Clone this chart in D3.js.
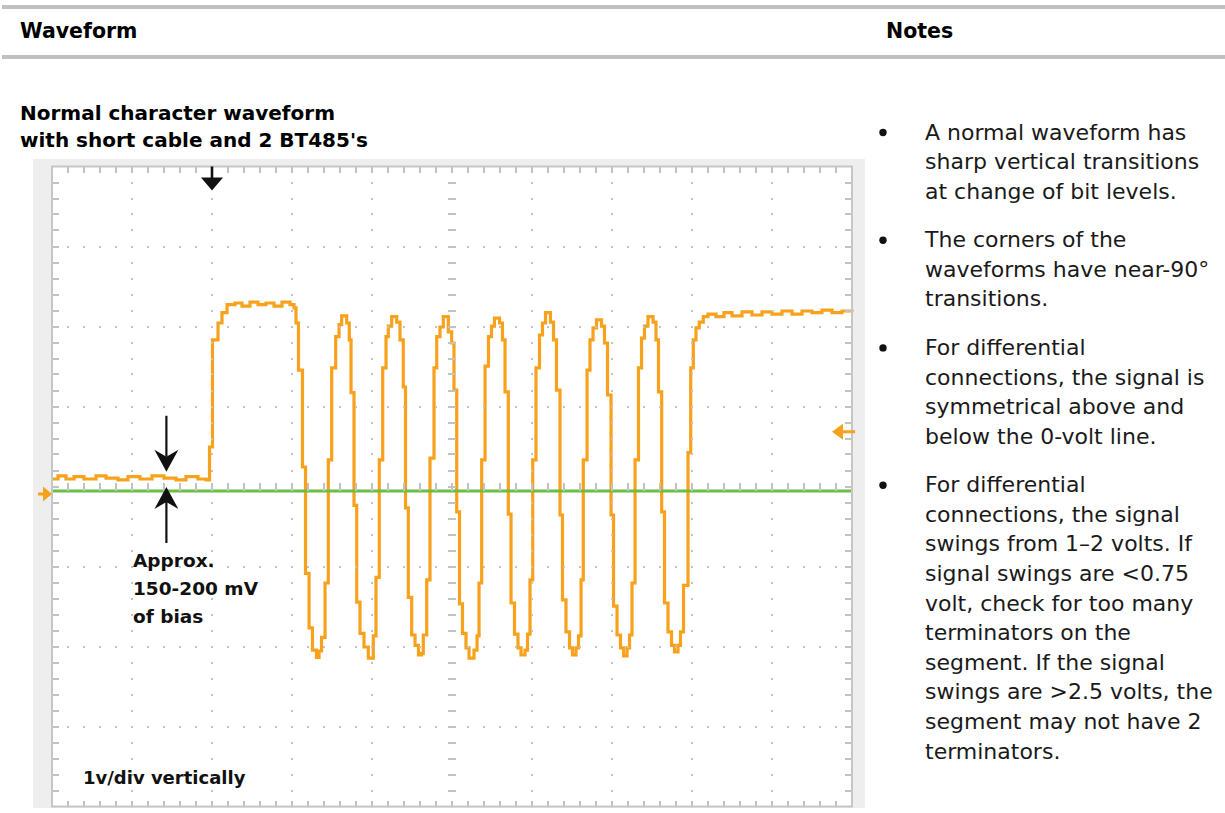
<!DOCTYPE html>
<html><head><meta charset="utf-8">
<script src="https://cdn.jsdelivr.net/npm/d3@7"></script>
<style>body{margin:0;background:#fff}svg{display:block}</style>
</head><body>
<svg id="c" width="1225" height="813"></svg>
<script>
// ---------- DATA ----------
// time in microseconds (assumed 100 us / division), voltage in volts (1 V / division)
const idleLow = [[0,0.15],[7.5,0.19],[17.5,0.15],[27.5,0.18],[40,0.15],[55,0.19],[67.5,0.16],[82.5,0.14],[95,0.18],[110,0.15],[125,0.19],[140,0.16],[155,0.14],[167.5,0.18],[182.5,0.15],[192.5,0.14]];
const firstHigh = [[196.9,0.55],[200.6,1.89],[207.5,2.10],[212.5,2.23],[218.8,2.33],[228.8,2.35],[237.5,2.31],[247.5,2.36],[257.5,2.33],[267.5,2.35],[277.5,2.31],[287.5,2.36],[297.5,2.33],[302.5,2.29]];
const burst = [
 [305,2.10],[308.1,1.51],[313.1,0.30],[316.9,-1.03],[321.3,-1.71],[325.6,-1.99],[330.6,-2.08],[333.8,-2.00],[336.9,-1.83],[341.3,-1.15],[345.4,0.39],[349.6,1.54],[354.6,1.93],[358.8,2.08],[362.1,2.19],[368.4,2.10],[371.6,1.89],[373.8,1.23],
 [377.5,-0.18],[380.9,-1.39],[385,-1.78],[390,-1.95],[395.4,-2.09],[401.6,-1.81],[405,-1.08],[409.1,0.39],[413.4,1.54],[417.5,1.93],[420.4,2.06],[424.6,2.18],[430.9,2.11],[435,1.89],[439.1,1.30],
 [441.9,-0.21],[445.4,-1.33],[449.6,-1.80],[453.8,-1.93],[458.1,-2.05],[462.1,-2.03],[464.1,-1.80],[468.4,-1.11],[472.5,0.41],[477.5,1.54],[480.9,1.93],[485,2.05],[489.1,2.18],[495.4,1.99],[499.6,1.85],[502.5,1.26],
 [505.9,-0.26],[509.4,-1.41],[513.1,-1.78],[517.5,-1.96],[521.3,-2.09],[527.5,-1.99],[531.3,-1.81],[533.8,-1.15],[537.1,0.39],[541.3,1.56],[545.6,1.93],[549.4,2.06],[553.1,2.16],[559.4,2.10],[563.1,1.89],[566.3,1.24],
 [570.4,-0.29],[573.8,-1.40],[578.1,-1.79],[582.5,-1.96],[586.3,-2.05],[591.3,-1.99],[594.4,-1.79],[597.5,-1.11],[600.9,0.39],[605,1.54],[609.4,1.95],[613.1,2.10],[616.9,2.23],[623.1,2.11],[626.9,1.89],[630.6,1.26],
 [635,-0.30],[638.1,-1.36],[642.5,-1.76],[646.9,-1.96],[650.6,-2.05],[655,-1.96],[658.1,-1.81],[661.3,-1.11],[664.1,0.39],[668.8,1.51],[672.5,1.89],[676.3,2.04],[680.6,2.14],[686.9,2.06],[690.6,1.85],[694.4,1.20],
 [698.8,-0.30],[701.9,-1.44],[706.3,-1.80],[710.6,-1.96],[714.4,-2.06],[718.8,-1.96],[721.9,-1.80],[725,-1.15],[728.8,0.39],[733.1,1.54],[736.9,1.91],[740.6,2.06],[745,2.18],[751.3,2.11],[755,1.89],[758.1,1.24],
 [762.1,-0.26],[765.6,-1.40],[770,-1.76],[774.4,-1.93],[778.1,-2.01],[782.5,-1.93],[785.6,-1.76],[789.4,-1.18]
];
const finalHigh = [[795,0.48],[798.4,1.54],[801.6,1.89],[805,2.04],[809.1,2.11],[814.1,2.18],[820,2.21],[830,2.18],[840,2.23],[850,2.19],[862.5,2.24],[875,2.20],[887.5,2.24],[900,2.21],[912.5,2.25],[925,2.21],[937.5,2.25],[950,2.23],[962.5,2.26],[975,2.23],[987.5,2.25],[1000,2.24]];

const timeDomain = [0, 1000];      // 10 divisions
const divDomain = [-4, 4];         // 8 vertical divisions
const voltsPerDiv = 1;
const groundDiv = -0.056;          // channel ground marker position (div)
const triggerTime = 200;
const triggerLevel = 0.74;
const biasMarkTime = 143;
const biasArrowDown = [0.94, 0.24];
const biasArrowUp = [-0.65, 0.05];

const headerLabels = ["Waveform", "Notes"];
const titleLines = ["Normal character waveform", "with short cable and 2 BT485's"];
const biasLabel = ["Approx.", "150-200 mV", "of bias"];
const scaleLabel = "1v/div vertically";
const notes = [
 ["A normal waveform has", "sharp vertical transitions", "at change of bit levels."],
 ["The corners of the", "waveforms have near-90°", "transitions."],
 ["For differential", "connections, the signal is", "symmetrical above and", "below the 0-volt line."],
 ["For differential", "connections, the signal", "swings from 1–2 volts. If", "signal swings are <0.75", "volt, check for too many", "terminators on the", "segment. If the signal", "swings are >2.5 volts, the", "segment may not have 2", "terminators."]
];

// ---------- DRAW ----------
const svg = d3.select('#c');
const x = d3.scaleLinear().domain(timeDomain).range([52, 852]);
const yDiv = d3.scaleLinear().domain(divDomain).range([806.5, 166.5]);
const yV = v => yDiv(v / voltsPerDiv + groundDiv);

const ORANGE = '#F7A11D', GREEN = '#6BBE45', GRID = '#c2c2c2';

// header bars
svg.append('rect').attr('x', 2).attr('y', 5).attr('width', 1223).attr('height', 4).attr('fill', '#c0c0c0');
svg.append('rect').attr('x', 2).attr('y', 55).attr('width', 1223).attr('height', 4).attr('fill', '#c0c0c0');
svg.selectAll('text.hdr').data(headerLabels).join('text').attr('class', 'hdr')
  .attr('x', (d, i) => i === 0 ? 20 : 886).attr('y', 38)
  .attr('font-family', 'DejaVu Sans').attr('font-weight', 'bold').attr('font-size', 20.5).attr('fill', '#000')
  .text(d => d);

// title
svg.selectAll('text.ttl').data(titleLines).join('text').attr('class', 'ttl')
  .attr('x', 20).attr('y', (d, i) => 119.5 + i * 27.4)
  .attr('font-family', 'DejaVu Sans').attr('font-weight', 'bold').attr('font-size', 20).attr('fill', '#000')
  .text(d => d);

// scope panel
svg.append('rect').attr('x', 33).attr('y', 159).attr('width', 832).attr('height', 649).attr('fill', '#eeeeee');
svg.append('rect').attr('x', x(0)).attr('y', yDiv(4)).attr('width', x(1000) - x(0)).attr('height', yDiv(-4) - yDiv(4)).attr('fill', '#fff');

// trace
const trace = idleLow.concat(firstHigh, burst, finalHigh);
const line = d3.line().x(d => x(d[0])).y(d => yV(d[1])).curve(d3.curveStepAfter);
svg.append('path').datum(trace).attr('d', line).attr('fill', 'none')
  .attr('stroke', ORANGE).attr('stroke-width', 3.2).attr('stroke-linejoin', 'miter');

// zero line
svg.append('line').attr('x1', x(0)).attr('x2', x(1000)).attr('y1', yV(0)).attr('y2', yV(0))
  .attr('stroke', GREEN).attr('stroke-width', 3);

// graticule
const g = svg.append('g').attr('shape-rendering', 'crispEdges');
const minorT = d3.range(1, 50).map(k => k * 20);
const minorD = d3.range(-19, 20).map(k => k / 5);
const majorT = d3.range(1, 10).map(k => k * 100).filter(t => t !== 500);
const majorD = d3.range(-3, 4).filter(d => d !== 0);
const dots = [];
majorT.forEach(t => minorD.forEach(d => dots.push([t, d])));
majorD.forEach(d => minorT.forEach(t => dots.push([t, d])));
g.selectAll('rect.dot').data(dots).join('rect').attr('class', 'dot')
  .attr('x', d => Math.round(x(d[0])) - 1).attr('y', d => Math.round(yDiv(d[1])) - 1)
  .attr('width', 2).attr('height', 2).attr('fill', GRID);
// centre cross ticks
g.selectAll('line.cv').data(minorD).join('line').attr('class', 'cv')
  .attr('x1', x(500) - 4).attr('x2', x(500) + 4).attr('y1', d => Math.round(yDiv(d))).attr('y2', d => Math.round(yDiv(d)))
  .attr('stroke', GRID).attr('stroke-width', 2);
g.selectAll('line.ch').data(minorT).join('line').attr('class', 'ch')
  .attr('y1', yDiv(0) - 4).attr('y2', yDiv(0) + 4).attr('x1', d => Math.round(x(d))).attr('x2', d => Math.round(x(d)))
  .attr('stroke', GRID).attr('stroke-width', 2);
// border ticks
g.selectAll('line.tt').data(minorT).join('line').attr('class', 'tt')
  .attr('x1', d => Math.round(x(d))).attr('x2', d => Math.round(x(d))).attr('y1', yDiv(4)).attr('y2', yDiv(4) + 6)
  .attr('stroke', GRID).attr('stroke-width', 2);
g.selectAll('line.bt').data(minorT).join('line').attr('class', 'bt')
  .attr('x1', d => Math.round(x(d))).attr('x2', d => Math.round(x(d))).attr('y1', yDiv(-4) - 6).attr('y2', yDiv(-4))
  .attr('stroke', GRID).attr('stroke-width', 2);
g.selectAll('line.lt').data(minorD).join('line').attr('class', 'lt')
  .attr('x1', x(0)).attr('x2', x(0) + 7).attr('y1', d => Math.round(yDiv(d))).attr('y2', d => Math.round(yDiv(d)))
  .attr('stroke', GRID).attr('stroke-width', 2);
g.selectAll('line.rt').data(minorD).join('line').attr('class', 'rt')
  .attr('x1', x(1000) - 7).attr('x2', x(1000)).attr('y1', d => Math.round(yDiv(d))).attr('y2', d => Math.round(yDiv(d)))
  .attr('stroke', GRID).attr('stroke-width', 2);
svg.append('rect').attr('x', x(0)).attr('y', yDiv(4)).attr('width', x(1000) - x(0)).attr('height', yDiv(-4) - yDiv(4))
  .attr('fill', 'none').attr('stroke', '#c6c6c6').attr('stroke-width', 2);

// trigger position marker (top)
const tx = x(triggerTime), ty = yDiv(4);
svg.append('path').attr('d', `M${tx - 1.3},${ty} h2.6 v11 h-2.6 Z M${tx - 11},${ty + 11} L${tx + 11},${ty + 11} L${tx},${ty + 24} Z`).attr('fill', '#111');

// ground marker (left)
const gy = yV(0) + 3;
svg.append('path').attr('d', `M38,${gy - 1.5} h5 v-6 L52,${gy} L43,${gy + 7.5} v-6 h-5 Z`).attr('fill', ORANGE);

// trigger level marker (right)
const ly = yV(triggerLevel), lx = x(1000);
svg.append('path').attr('d', `M${lx - 20},${ly} L${lx - 9},${ly - 8} v6.5 h12 v3 h-12 v6.5 Z`).attr('fill', ORANGE);

// bias arrows
const ax = x(biasMarkTime);
function arrow(y0, y1) {
  const dir = y1 > y0 ? 1 : -1;
  const back = y1 - dir * 22, notch = y1 - dir * 15;
  svg.append('line').attr('x1', ax).attr('x2', ax).attr('y1', y0).attr('y2', notch).attr('stroke', '#111').attr('stroke-width', 2.2);
  svg.append('path').attr('d', `M${ax},${y1} L${ax - 12},${back} L${ax},${notch} L${ax + 12},${back} Z`).attr('fill', '#111');
}
arrow(yV(biasArrowDown[0]), yV(biasArrowDown[1]));
arrow(yV(biasArrowUp[0]), yV(biasArrowUp[1]));

svg.selectAll('text.bias').data(biasLabel).join('text').attr('class', 'bias')
  .attr('x', 133).attr('y', (d, i) => 567 + i * 28)
  .attr('font-family', 'DejaVu Sans').attr('font-weight', 'bold').attr('font-size', 18.5).attr('fill', '#111')
  .text(d => d);
svg.append('text').attr('x', 83).attr('y', 784)
  .attr('font-family', 'DejaVu Sans').attr('font-weight', 'bold').attr('font-size', 18).attr('fill', '#111')
  .text(scaleLabel);

// notes
const LH = 29.6, GAP = 48.5;
let by = 139.5;
const noteG = svg.append('g').attr('font-family', 'DejaVu Sans').attr('font-size', 22).attr('fill', '#1a1a1a');
notes.forEach(para => {
  noteG.append('circle').attr('cx', 883).attr('cy', by - 7).attr('r', 3.7).attr('fill', '#111');
  para.forEach((ln, li) => {
    noteG.append('text').attr('x', 925).attr('y', by + li * LH).text(ln);
  });
  by += (para.length - 1) * LH + GAP;
});
</script>
</body></html>
